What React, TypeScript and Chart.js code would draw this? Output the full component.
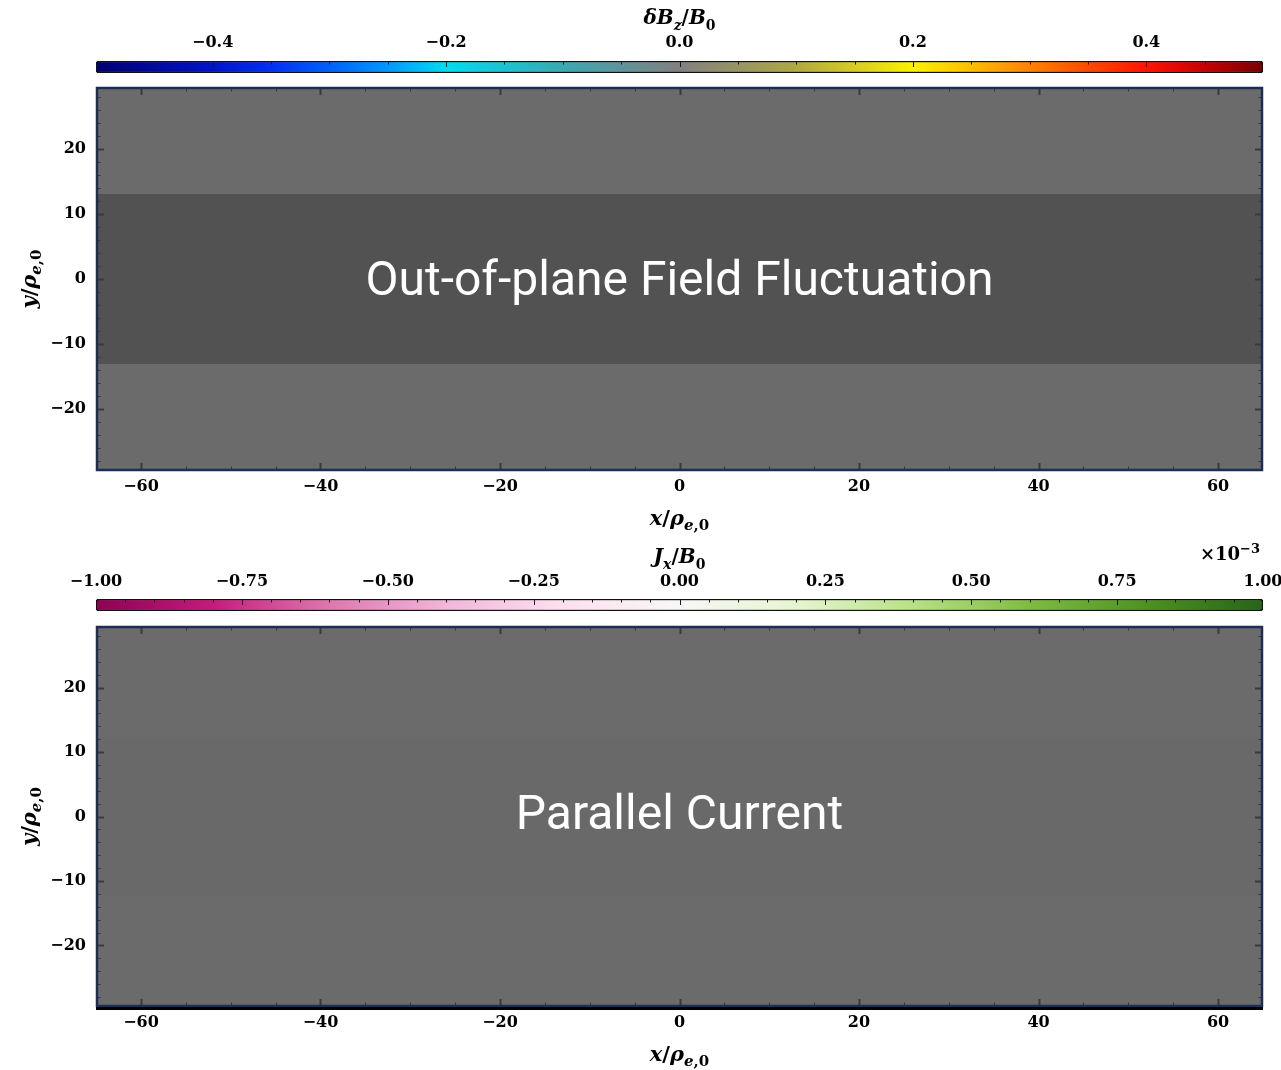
import React, { useEffect, useRef } from "react";
import { Chart, registerables } from "chart.js";

Chart.register(...registerables);

// ---------- data ----------
const xTicks = [-60, -40, -20, 0, 20, 40, 60];
const yTicks = [-20, -10, 0, 10, 20];
const xLimits = [-64.9, 64.9];
const yLimits = [-29.4, 29.4];
const xMinorStep = 5;
const yMinorStep = 2;

// out-of-plane field panel (masked grey field): layers, later ones on top
const bzBandBottoms = [-29.4, -13.1];
const bzBandTops = [29.4, 13.1];
const bzBandShades = ["#6b6b6b", "#525252"];

// parallel current panel
const jxBandBottoms = [-29.4, -12.3];
const jxBandTops = [29.4, 12.3];
const jxBandShades = ["#6b6b6b", "#696969"];

// colorbar δBz/B0
const bzCbLimits = [-0.5, 0.5];
const bzCbTicks = [-0.4, -0.2, 0, 0.2, 0.4];
const bzCbMinorStep = 0.05;
const bzCbStopValues = [-0.5, -0.45, -0.4, -0.35, -0.3, -0.25, -0.2, -0.1, 0, 0.1, 0.2, 0.25, 0.3, 0.35, 0.4, 0.45, 0.5];
const bzCbStopColors = [
  "#00006e", "#000a9c", "#0014c8", "#0030f5", "#0060ff", "#0098ff", "#00dcf0", "#3aa8b4", "#808080",
  "#b0a844", "#fff000", "#ffbe00", "#ff8200", "#ff4a00", "#ff1400", "#c80000", "#780000",
];

// colorbar Jx/B0 (x1e-3)
const jxCbLimits = [-1, 1];
const jxCbTicks = [-1, -0.75, -0.5, -0.25, 0, 0.25, 0.5, 0.75, 1];
const jxCbMinorStep = 0.05;
const jxCbStopValues = [-1, -0.8, -0.6, -0.4, -0.2, 0, 0.2, 0.4, 0.6, 0.8, 1];
const jxCbStopColors = [
  "#8e0152", "#c51b7d", "#de77ae", "#f1b6da", "#fde0ef", "#f7f7f7",
  "#e6f5d0", "#b8e186", "#7fbc41", "#4d9221", "#276419",
];

type Seg = { t: string; it?: boolean; sub?: boolean; sup?: boolean };

const bzTitle: Seg[] = [
  { t: "δ", it: true }, { t: "B", it: true }, { t: "z", it: true, sub: true },
  { t: "/" }, { t: "B", it: true }, { t: "0", sub: true },
];
const jxTitle: Seg[] = [
  { t: "J", it: true }, { t: "x", it: true, sub: true },
  { t: "/" }, { t: "B", it: true }, { t: "0", sub: true },
];
const jxExponent: Seg[] = [{ t: "×10" }, { t: "−3", sup: true }];
const xTitle: Seg[] = [
  { t: "x", it: true }, { t: "/" }, { t: "ρ", it: true }, { t: "e", it: true, sub: true }, { t: ",0", sub: true },
];
const yTitle: Seg[] = [
  { t: "y", it: true }, { t: "/" }, { t: "ρ", it: true }, { t: "e", it: true, sub: true }, { t: ",0", sub: true },
];

// ---------- helpers ----------
const SERIF = "'DejaVu Serif', 'Liberation Serif', serif";

function fmt(v: number, decimals: number): string {
  const s = Math.abs(v).toFixed(decimals);
  return (v < -1e-9 ? "\u2212" : "") + s;
}

function drawRich(
  ctx: CanvasRenderingContext2D,
  segs: Seg[],
  x: number,
  y: number,
  size: number,
  align: "center" | "right" | "left" = "center",
  rotate = 0
) {
  ctx.save();
  ctx.translate(x, y);
  if (rotate) ctx.rotate(rotate);
  const fontFor = (s: Seg) =>
    `${s.it ? "italic " : ""}bold ${s.sub || s.sup ? Math.round(size * 0.7) : size}px ${SERIF}`;
  const widths = segs.map((s) => {
    ctx.font = fontFor(s);
    return ctx.measureText(s.t).width;
  });
  const total = widths.reduce((a, b) => a + b, 0);
  let cx = align === "center" ? -total / 2 : align === "right" ? -total : 0;
  ctx.fillStyle = "#000";
  ctx.textBaseline = "alphabetic";
  ctx.textAlign = "left";
  segs.forEach((s, i) => {
    ctx.font = fontFor(s);
    const dy = s.sub ? size * 0.28 : s.sup ? -size * 0.42 : 0;
    ctx.fillText(s.t, cx, size * 0.36 + dy);
    cx += widths[i];
  });
  ctx.restore();
}

function panelConfig(
  bottoms: number[],
  tops: number[],
  shades: string[],
  overlay: string,
  overlayDy: number,
  axisHeight: number,
  padTop: number,
  bottomRule: boolean
): any {
  const datasets = bottoms.map((b, i) => ({
    data: [
      { x: xLimits[0], y: tops[i] },
      { x: xLimits[1], y: tops[i] },
    ],
    fill: { value: b },
    backgroundColor: shades[i],
    borderColor: "rgba(0,0,0,0)",
    borderWidth: 0,
    pointRadius: 0,
    tension: 0,
    order: -i,
  }));
  const decor = {
    id: "panelDecor",
    afterDatasetsDraw(chart: any) {
      const { ctx, chartArea: a } = chart;
      ctx.save();
      ctx.fillStyle = "#ffffff";
      ctx.font = "48px Roboto";
      ctx.textAlign = "center";
      ctx.textBaseline = "middle";
      ctx.fillText(overlay, (a.left + a.right) / 2, (a.top + a.bottom) / 2 + overlayDy);
      ctx.restore();
    },
    afterDraw(chart: any) {
      const { ctx, chartArea: a, scales } = chart;
      const xs = scales.x;
      const ys = scales.y;
      ctx.save();
      ctx.strokeStyle = "#3a3a3a";
      for (let k = Math.ceil(xLimits[0] / xMinorStep); k * xMinorStep <= xLimits[1]; k++) {
        const v = k * xMinorStep;
        const major = xTicks.includes(v);
        const len = major ? 7 : 3.5;
        ctx.lineWidth = major ? 2 : 1;
        const px = Math.round(xs.getPixelForValue(v)) + 0.5;
        ctx.beginPath();
        ctx.moveTo(px, a.bottom);
        ctx.lineTo(px, a.bottom - len);
        ctx.moveTo(px, a.top);
        ctx.lineTo(px, a.top + len);
        ctx.stroke();
      }
      for (let k = Math.ceil(yLimits[0] / yMinorStep); k * yMinorStep <= yLimits[1]; k++) {
        const v = k * yMinorStep;
        const major = yTicks.includes(v);
        const len = major ? 7 : 3.5;
        ctx.lineWidth = major ? 2 : 1;
        const py = Math.round(ys.getPixelForValue(v)) + 0.5;
        ctx.beginPath();
        ctx.moveTo(a.left, py);
        ctx.lineTo(a.left + len, py);
        ctx.moveTo(a.right, py);
        ctx.lineTo(a.right - len, py);
        ctx.stroke();
      }
      ctx.strokeStyle = "#1c2e55";
      ctx.lineWidth = 2.5;
      ctx.strokeRect(a.left, a.top, a.right - a.left, a.bottom - a.top);
      if (bottomRule) {
        ctx.strokeStyle = "#000";
        ctx.lineWidth = 3;
        ctx.beginPath();
        ctx.moveTo(a.left - 1, a.bottom + 2.5);
        ctx.lineTo(a.right + 1, a.bottom + 2.5);
        ctx.stroke();
      }
      ctx.restore();
      drawRich(ctx, xTitle, (a.left + a.right) / 2, a.bottom + 47, 21);
      drawRich(ctx, yTitle, 28, (a.top + a.bottom) / 2, 21, "center", -Math.PI / 2);
    },
  };
  return {
    type: "line",
    data: { datasets },
    plugins: [decor],
    options: {
      responsive: false,
      animation: false,
      events: [],
      layout: { padding: { left: 0, right: 19, top: padTop, bottom: 0 } },
      plugins: { legend: { display: false }, tooltip: { enabled: false }, title: { display: false } },
      scales: {
        x: {
          type: "linear",
          min: xLimits[0],
          max: xLimits[1],
          afterBuildTicks: (s: any) => {
            s.ticks = xTicks.map((v) => ({ value: v }));
          },
          afterFit: (s: any) => {
            s.height = axisHeight;
            s.paddingLeft = 0;
            s.paddingRight = 0;
          },
          grid: { display: false, drawTicks: false },
          border: { display: false },
          ticks: {
            padding: 7,
            color: "#000",
            autoSkip: false,
            maxRotation: 0,
            font: { family: SERIF, size: 16, weight: "bold" },
            callback: (v: any) => fmt(Number(v), 0),
          },
        },
        y: {
          type: "linear",
          min: yLimits[0],
          max: yLimits[1],
          afterBuildTicks: (s: any) => {
            s.ticks = yTicks.map((v) => ({ value: v }));
          },
          afterFit: (s: any) => {
            s.width = 97;
            s.paddingTop = 0;
            s.paddingBottom = 0;
          },
          grid: { display: false, drawTicks: false },
          border: { display: false },
          ticks: {
            padding: 11,
            color: "#000",
            autoSkip: false,
            font: { family: SERIF, size: 16, weight: "bold" },
            callback: (v: any) => fmt(Number(v), 0),
          },
        },
      },
    },
  };
}

function colorbarConfig(
  limits: number[],
  ticks: number[],
  minorStep: number,
  stopValues: number[],
  stopColors: string[],
  decimals: number,
  title: Seg[],
  axisHeight: number,
  labelPad: number,
  titleY: number,
  exponent: Seg[] | null
): any {
  const decor = {
    id: "cbDecor",
    afterDraw(chart: any) {
      const { ctx, chartArea: a, scales } = chart;
      const xs = scales.x;
      ctx.save();
      ctx.strokeStyle = "#1a1a1a";
      const n = Math.round((limits[1] - limits[0]) / minorStep);
      for (let k = 1; k < n; k++) {
        const v = limits[0] + k * minorStep;
        const major = ticks.some((t) => Math.abs(t - v) < 1e-9);
        const px = Math.round(xs.getPixelForValue(v)) + 0.5;
        ctx.lineWidth = 1;
        ctx.beginPath();
        ctx.moveTo(px, a.top + 1);
        ctx.lineTo(px, a.top + (major ? 6 : 3.5));
        ctx.stroke();
      }
      ctx.restore();
      drawRich(ctx, title, (a.left + a.right) / 2, titleY, 20);
      if (exponent) drawRich(ctx, exponent, a.right - 3, titleY - 2, 18, "right");
    },
  };
  return {
    type: "bar",
    data: {
      labels: [""],
      datasets: [
        {
          data: [[limits[0], limits[1]]],
          backgroundColor: (c: any) => {
            const chart = c.chart;
            const xs = chart.scales && chart.scales.x;
            if (!chart.chartArea || !xs) return "#888";
            const x0 = xs.getPixelForValue(limits[0]);
            const x1 = xs.getPixelForValue(limits[1]);
            const g = chart.ctx.createLinearGradient(x0, 0, x1, 0);
            stopValues.forEach((v, i) => {
              g.addColorStop((v - limits[0]) / (limits[1] - limits[0]), stopColors[i]);
            });
            return g;
          },
          borderColor: "#111111",
          borderWidth: 1.5,
          borderSkipped: false,
          borderRadius: 3,
          barPercentage: 1,
          categoryPercentage: 1,
        },
      ],
    },
    plugins: [decor],
    options: {
      indexAxis: "y",
      responsive: false,
      animation: false,
      events: [],
      layout: { padding: { left: 96, right: 18, top: 0, bottom: 7 } },
      plugins: { legend: { display: false }, tooltip: { enabled: false }, title: { display: false } },
      scales: {
        x: {
          type: "linear",
          position: "top",
          min: limits[0],
          max: limits[1],
          afterBuildTicks: (s: any) => {
            s.ticks = ticks.map((v) => ({ value: v }));
          },
          afterFit: (s: any) => {
            s.height = axisHeight;
            s.paddingLeft = 0;
            s.paddingRight = 0;
          },
          grid: { display: false, drawTicks: false },
          border: { display: false },
          ticks: {
            padding: labelPad,
            color: "#000",
            autoSkip: false,
            maxRotation: 0,
            font: { family: SERIF, size: 16, weight: "bold" },
            callback: (v: any) => fmt(Number(v), decimals),
          },
        },
        y: { display: false },
      },
    },
  };
}

function ChartCanvas({ top, height, make }: { top: number; height: number; make: () => any }) {
  const ref = useRef<HTMLCanvasElement | null>(null);
  useEffect(() => {
    if (!ref.current) return;
    const chart = new Chart(ref.current, make());
    return () => chart.destroy();
  }, []);
  return (
    <canvas
      ref={ref}
      width={1281}
      height={height}
      style={{ position: "absolute", left: 0, top, width: 1281, height, display: "block" }}
    />
  );
}

export default function App() {
  return (
    <div style={{ position: "absolute", left: 0, top: 0, width: 1281, height: 1070, background: "#ffffff", overflow: "hidden" }}>
      <ChartCanvas
        top={0}
        height={80}
        make={() =>
          colorbarConfig(bzCbLimits, bzCbTicks, bzCbMinorStep, bzCbStopValues, bzCbStopColors, 1, bzTitle, 61, 9, 17, null)
        }
      />
      <ChartCanvas
        top={80}
        height={460}
        make={() => panelConfig(bzBandBottoms, bzBandTops, bzBandShades, "Out-of-plane Field Fluctuation", 4, 70, 8, false)}
      />
      <ChartCanvas
        top={540}
        height={78}
        make={() =>
          colorbarConfig(jxCbLimits, jxCbTicks, jxCbMinorStep, jxCbStopValues, jxCbStopColors, 2, jxTitle, 59, 8, 16, jxExponent)
        }
      />
      <ChartCanvas
        top={618}
        height={452}
        make={() => panelConfig(jxBandBottoms, jxBandTops, jxBandShades, "Parallel Current", 0, 64, 9, true)}
      />
    </div>
  );
}
